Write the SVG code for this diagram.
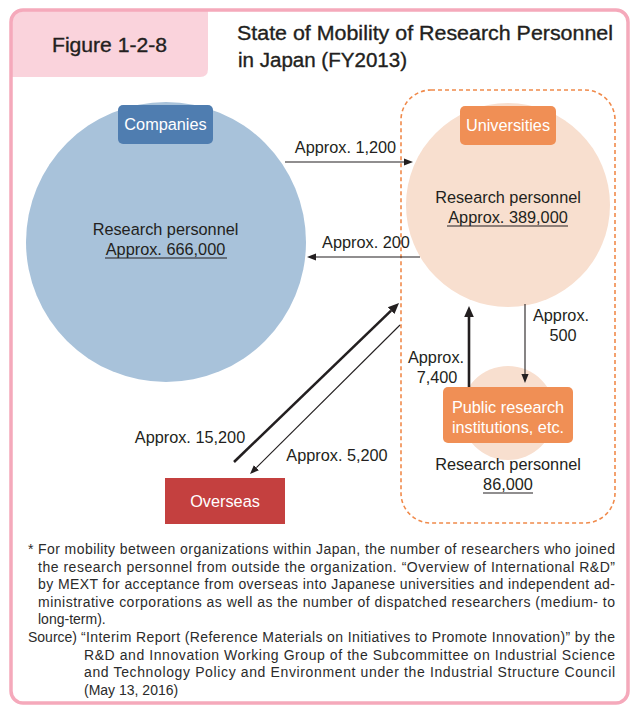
<svg xmlns="http://www.w3.org/2000/svg" width="633" height="707" viewBox="0 0 633 707">
  <style>
    text { font-family: "Liberation Sans", Arial, sans-serif; fill: #231f20; }
    .lbl { font-size: 16.3px; }
    .mid { text-anchor: middle; }
    .wht { fill: #ffffff; }
    .note { font-size: 14px; fill: #2b2b2b; }
    .ttl { font-size: 20px; stroke: #231f20; stroke-width: 0.35px; }
    .thin { stroke: #231f20; stroke-width: 1.1; fill: none; }
    .thick { stroke: #231f20; stroke-width: 2.6; fill: none; }
    .ul { stroke: #231f20; stroke-width: 1.1; }
  </style>
  <defs>
    <marker id="headThin" markerUnits="userSpaceOnUse" viewBox="0 -5 10 10" refX="0" refY="0" markerWidth="10" markerHeight="10" orient="auto">
      <path d="M0,-3.6 L9,0 L0,3.6 Z" fill="#231f20"/>
    </marker>
    <marker id="headThick" markerUnits="userSpaceOnUse" viewBox="0 -6 12 12" refX="0" refY="0" markerWidth="12" markerHeight="12" orient="auto">
      <path d="M0,-4.8 L11,0 L0,4.8 Z" fill="#231f20"/>
    </marker>
  </defs>

  <!-- page frame and figure tab -->
  <g id="frame">
    <rect x="0" y="0" width="633" height="707" fill="#ffffff"/>
    <path d="M11,22 Q11,10 23,10 L208,10 L208,69 Q208,77 200,77 L11,77 Z" fill="#fad3dc"/>
    <rect x="11" y="10" width="617" height="693" rx="12" ry="12" fill="none" stroke="#f5a9bb" stroke-width="3.5"/>
    <text x="52" y="52" class="ttl" textLength="115" lengthAdjust="spacingAndGlyphs">Figure 1-2-8</text>
    <text x="237" y="40" class="ttl" textLength="376" lengthAdjust="spacingAndGlyphs">State of Mobility of Research Personnel</text>
    <text x="238" y="67" class="ttl" textLength="169" lengthAdjust="spacingAndGlyphs">in Japan (FY2013)</text>
  </g>

  <!-- group boundary around the public-sector bodies -->
  <g id="public-sector">
    <rect x="401" y="90" width="214" height="433" rx="30" ry="30" fill="none" stroke="#f08a4b" stroke-width="1.6" stroke-dasharray="4 3"/>
  </g>

  <g id="companies">
    <circle cx="166" cy="242" r="140" fill="#a8c2da"/>
    <rect x="118" y="105" width="95" height="39" rx="5" fill="#4f7db0"/>
    <text x="165.5" y="130" class="lbl mid wht">Companies</text>
    <text x="165.5" y="235" class="lbl mid">Research personnel</text>
    <text x="165.5" y="255" class="lbl mid">Approx. 666,000</text>
    <line x1="105" y1="258" x2="227" y2="258" class="ul"/>
  </g>

  <g id="universities">
    <circle cx="508" cy="205" r="102" fill="#f8dfcf"/>
    <rect x="460" y="106" width="96" height="39" rx="5" fill="#f08f55"/>
    <text x="508" y="131" class="lbl mid wht">Universities</text>
    <text x="508" y="203" class="lbl mid">Research personnel</text>
    <text x="508" y="223" class="lbl mid">Approx. 389,000</text>
    <line x1="447" y1="226" x2="568" y2="226" class="ul"/>
  </g>

  <g id="public-institutions">
    <circle cx="508" cy="413" r="47" fill="#f8dfcf"/>
    <rect x="443" y="387" width="130" height="56" rx="5" fill="#f08f55"/>
    <text x="508" y="413" class="lbl mid wht">Public research</text>
    <text x="508" y="433" class="lbl mid wht">institutions, etc.</text>
    <text x="508" y="470" class="lbl mid">Research personnel</text>
    <text x="508" y="490" class="lbl mid">86,000</text>
    <line x1="483" y1="493" x2="533" y2="493" class="ul"/>
  </g>

  <g id="overseas">
    <rect x="165" y="478" width="120" height="46" fill="#c4403f"/>
    <text x="225" y="507" class="lbl mid wht">Overseas</text>
  </g>

  <!-- flows between organizations -->
  <g id="connectors">
    <line x1="285" y1="162" x2="404" y2="162" class="thin" marker-end="url(#headThin)"/>
    <text x="345.5" y="153" class="lbl mid">Approx. 1,200</text>

    <line x1="420" y1="257" x2="316" y2="257" class="thin" marker-end="url(#headThin)"/>
    <text x="366" y="248" class="lbl mid">Approx. 200</text>

    <line x1="234" y1="462" x2="391.1" y2="310.6" class="thick" marker-end="url(#headThick)"/>
    <text x="190" y="443" class="lbl mid">Approx. 15,200</text>

    <line x1="400" y1="325" x2="256.4" y2="467.7" class="thin" marker-end="url(#headThin)"/>
    <text x="337" y="461" class="lbl mid">Approx. 5,200</text>

    <line x1="469" y1="387" x2="469" y2="317" class="thick" marker-end="url(#headThick)"/>
    <text x="436" y="363" class="lbl mid">Approx.</text>
    <text x="437" y="383" class="lbl mid">7,400</text>

    <line x1="525" y1="304" x2="525" y2="374" class="thin" marker-end="url(#headThin)"/>
    <text x="561" y="321" class="lbl mid">Approx.</text>
    <text x="563" y="341" class="lbl mid">500</text>
  </g>

  <!-- notes and source -->
  <g id="notes">
    <text x="28" y="554" class="note">*</text>
    <text x="38" y="554" class="note" textLength="577" lengthAdjust="spacing">For mobility between organizations within Japan, the number of researchers who joined</text>
    <text x="38" y="571.5" class="note" textLength="577" lengthAdjust="spacing">the research personnel from outside the organization. “Overview of International R&amp;D”</text>
    <text x="38" y="589" class="note" textLength="577" lengthAdjust="spacing">by MEXT for acceptance from overseas into Japanese universities and independent ad-</text>
    <text x="38" y="606.5" class="note" textLength="577" lengthAdjust="spacing">ministrative corporations as well as the number of dispatched researchers (medium- to</text>
    <text x="38" y="624" class="note">long-term).</text>
    <text x="28" y="642" class="note">Source)</text>
    <text x="81" y="642" class="note" textLength="534" lengthAdjust="spacing">“Interim Report (Reference Materials on Initiatives to Promote Innovation)” by the</text>
    <text x="84" y="659.5" class="note" textLength="531" lengthAdjust="spacing">R&amp;D and Innovation Working Group of the Subcommittee on Industrial Science</text>
    <text x="84" y="677" class="note" textLength="531" lengthAdjust="spacing">and Technology Policy and Environment under the Industrial Structure Council</text>
    <text x="84" y="694.5" class="note">(May 13, 2016)</text>
  </g>
</svg>
